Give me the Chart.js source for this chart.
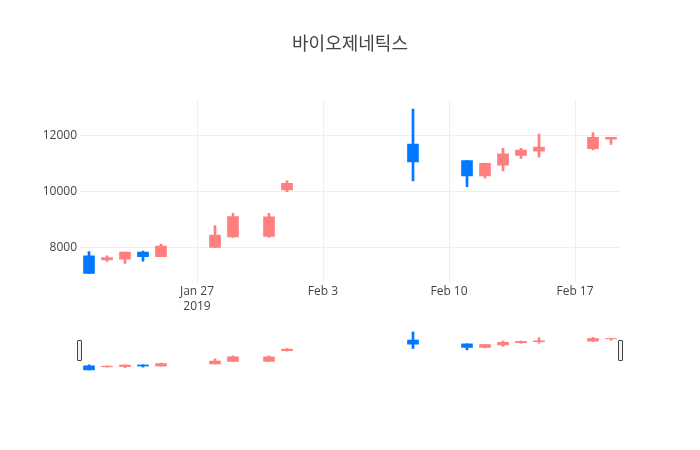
<!DOCTYPE html>
<html><head><meta charset="utf-8">
<script src="https://cdn.jsdelivr.net/npm/chart.js@4/dist/chart.umd.min.js"></script>
<style>
html,body{margin:0;padding:0;background:#fff;overflow:hidden}
#wrap{position:relative;width:700px;height:450px}
#main{position:absolute;left:0;top:0}
#slider{position:absolute;left:80px;top:330px}
.handle{position:absolute;top:340px;width:3px;height:19px;border:1px solid #444;border-radius:1px;background:#f2f2f2}
</style></head>
<body>
<div id="wrap">
<canvas id="main" width="700" height="450"></canvas>
<canvas id="slider" width="540" height="42"></canvas>
<div class="handle" style="left:77px"></div>
<div class="handle" style="left:618px"></div>
</div>
<script>
const chartTitle = '바이오제네틱스';
const dates  = ['2019-01-21','2019-01-22','2019-01-23','2019-01-24','2019-01-25','2019-01-28','2019-01-29','2019-01-31','2019-02-01','2019-02-08','2019-02-11','2019-02-12','2019-02-13','2019-02-14','2019-02-15','2019-02-18','2019-02-19'];
const opens  = [7710, 7560, 7590, 7840, 7680, 8010, 8390, 8400, 10060, 11700, 11110, 10560, 10950, 11300, 11450, 11540, 11880];
const highs  = [7860, 7710, 7840, 7880, 8130, 8790, 9230, 9230, 10390, 12950, 11110, 11020, 11550, 11550, 12060, 12110, 11940];
const lows   = [7080, 7510, 7440, 7520, 7680, 8000, 8370, 8380, 10000, 10390, 10180, 10480, 10740, 11190, 11230, 11490, 11690];
const closes = [7080, 7650, 7840, 7680, 8060, 8450, 9110, 9100, 10300, 11060, 10560, 11010, 11350, 11490, 11590, 11940, 11940];
const xTickDates  = ['2019-01-27','2019-02-03','2019-02-10','2019-02-17'];
const xTickLabels = [['Jan 27','2019'],'Feb 3','Feb 10','Feb 17'];
const yTickValues = [8000, 10000, 12000];
const xRangeDates = ['2019-01-20T12:00:00Z','2019-02-19T12:00:00Z'];
const yRange = [6754, 13258];
const upColor = '#ff7f7f';
const downColor = '#0078ff';

const DAY = 86400000;
const REF = Date.UTC(2019, 0, 27);
const toDay = s => (Date.parse(s.length === 10 ? s + 'T00:00:00Z' : s) - REF) / DAY;
const days = dates.map(toDay);
const xMin = toDay(xRangeDates[0]), xMax = toDay(xRangeDates[1]);
const colors = closes.map((c, i) => c >= opens[i] ? upColor : downColor);
const FONT = "'Open Sans','Noto Sans CJK KR','Noto Sans',sans-serif";

function candleDatasets() {
  return [
    {data: days.map((d, i) => ({x: d, y: [opens[i], closes[i]]})), backgroundColor: colors.slice(), borderWidth: 0, barThickness: 11, grouped: false, order: 0},
    {data: days.map((d, i) => ({x: d, y: [lows[i], highs[i]]})), backgroundColor: colors.slice(), borderWidth: 0, barThickness: 2, grouped: false, order: 1}
  ];
}

new Chart(document.getElementById('main'), {
  type: 'bar',
  data: {datasets: candleDatasets()},
  options: {
    responsive: false, animation: false, events: [],
    layout: {padding: {left: 0, right: 0, top: 0, bottom: 127.4}},
    plugins: {
      legend: {display: false}, tooltip: {enabled: false},
      title: {display: true, text: chartTitle, color: '#444',
        font: {size: 18, family: FONT, weight: 'normal'},
        padding: {top: 34, bottom: 44.9}}
    },
    scales: {
      x: {type: 'linear', min: xMin, max: xMax, offset: false,
        grid: {color: '#eee', drawTicks: false, offset: false},
        border: {display: false},
        afterBuildTicks: s => { s.ticks = xTickDates.map(d => ({value: toDay(d)})); },
        ticks: {autoSkip: false, maxRotation: 0, color: '#444', padding: 1,
          font: {size: 12, family: FONT, lineHeight: 1.275},
          callback: (v, i) => xTickLabels[i]},
        afterFit: s => { s.height = 40; }
      },
      y: {type: 'linear', position: 'left', min: yRange[0], max: yRange[1],
        grid: {color: '#eee', drawTicks: false},
        border: {display: false},
        afterBuildTicks: s => { s.ticks = yTickValues.map(v => ({value: v})); },
        ticks: {color: '#444', padding: 3, font: {size: 12, family: FONT},
          callback: v => String(v)},
        afterFit: s => { s.width = 80; }
      },
      yR: {type: 'linear', position: 'right', display: true,
        grid: {display: false}, border: {display: false}, ticks: {display: false},
        afterFit: s => { s.width = 80; }
      }
    }
  }
});

new Chart(document.getElementById('slider'), {
  type: 'bar',
  data: {datasets: candleDatasets()},
  options: {
    responsive: false, animation: false, events: [],
    layout: {padding: 0},
    plugins: {legend: {display: false}, tooltip: {enabled: false}, title: {display: false}},
    scales: {
      x: {type: 'linear', display: false, min: xMin, max: xMax, offset: false, grid: {offset: false}},
      y: {type: 'linear', display: false, min: yRange[0], max: yRange[1]}
    }
  }
});
</script>
</body></html>
